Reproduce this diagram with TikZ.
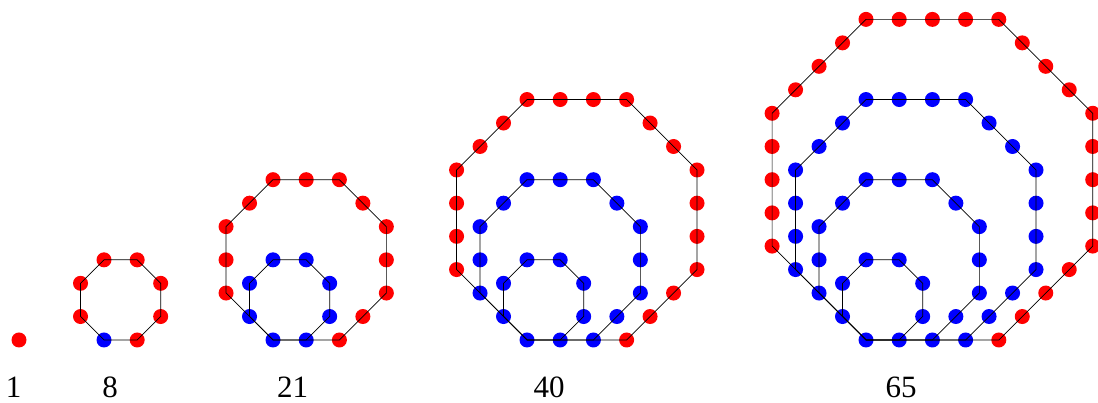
\documentclass[tikz,border=0pt]{standalone}
\usepackage{fontspec}
\setmainfont{Liberation Serif}
\usetikzlibrary{calc}

\begin{document}
\begin{tikzpicture}[
  x=1pt, y=1pt,
  dot/.style={circle, inner sep=0pt, minimum size=15pt},
  newdot/.style={dot, fill=red},
  olddot/.style={dot, fill=blue},
  ring/.style={line width=0.7pt},
  count/.style={anchor=base, inner sep=0pt, text depth=0pt, font=\fontsize{31}{31}\selectfont},
]
\useasboundingbox (0,0) rectangle (1098,403);
\def\sp{33.2}

% figure n, shared corner at (vx,63)
\foreach \n/\vx in {1/19, 2/104, 3/273, 4/527, 5/866} {
  \ifnum\n=1 \def\corecol{newdot}\else \def\corecol{olddot}\fi
  \node[\corecol] (f\n-0) at (\vx,63) {};
  \pgfmathtruncatemacro\outer{\n-1}
  \ifnum\outer>0
  \foreach \k in {1,...,\outer} {
    \ifnum\k=\outer \def\col{newdot}\else \def\col{olddot}\fi
    % corners of ring k
    \coordinate (c\n-\k-0) at (f\n-0.center);
    \foreach \i [evaluate=\i as \h using int(\i-1)] in {1,...,7}
      \coordinate (c\n-\k-\i) at ($(c\n-\k-\h)+(45*\h:\k*\sp)$);
    % dots, skipping the ones an inner ring already has
    \foreach \i in {1,...,7} {
      \pgfmathtruncatemacro\last{\i==7 ? 0 : \k-1}
      \foreach \j in {0,...,\last}
        \node[\col] (f\n-\k-\i-\j) at ($(c\n-\k-\i)+(45*\i:\j*\sp)$) {};
    }
    \draw[ring] (f\n-0.center) -- (f\n-\k-1-0.center) -- (f\n-\k-2-0.center)
      -- (f\n-\k-3-0.center) -- (f\n-\k-4-0.center) -- (f\n-\k-5-0.center)
      -- (f\n-\k-6-0.center) -- (f\n-\k-7-0.center) -- cycle;
  }
  \fi
}

\node[count] (n1) at (13.5,5) {1};
\node[count] (n8) at (110,5) {8};
\node[count] (n21) at (292.5,5) {21};
\node[count] (n40) at (549,5) {40};
\node[count] (n65) at (901,5) {65};
\end{tikzpicture}
\end{document}
